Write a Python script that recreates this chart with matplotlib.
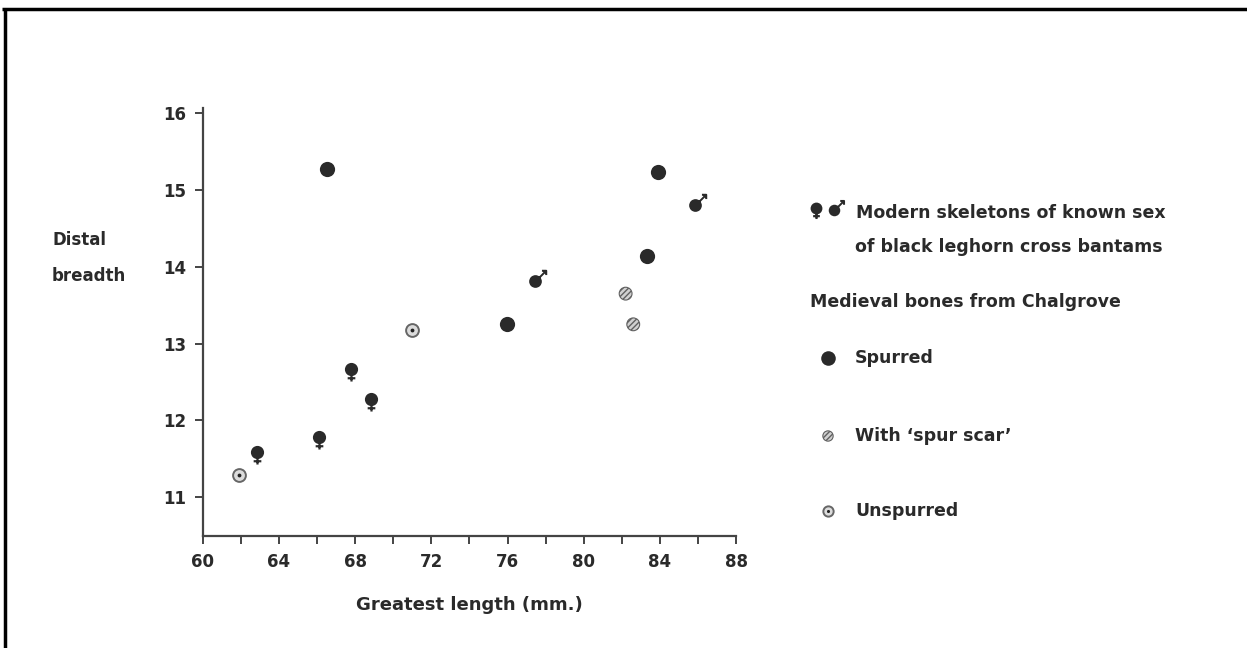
import numpy as np
import matplotlib
matplotlib.use("Agg")
import matplotlib.pyplot as plt
from matplotlib.path import Path

# greatest length (mm) / distal breadth (mm)
spurred_x = [66.5, 75.95, 83.3, 83.9]
spurred_y = [15.27, 13.26, 14.14, 15.23]
scar_x = [82.2, 82.6]
scar_y = [13.65, 13.25]
unspurred_x = [61.9, 71.0]
unspurred_y = [11.28, 13.17]
female_x = [62.85, 66.1, 67.8, 68.85]
female_y = [11.59, 11.78, 12.67, 12.28]
male_x = [77.45, 85.85]
male_y = [13.82, 14.81]

x_ticks = [60, 64, 68, 72, 76, 80, 84, 88]
y_ticks = [11, 12, 13, 14, 15, 16]

plt.rcParams["font.family"] = ["DejaVu Sans"]
plt.rcParams["font.weight"] = "bold"
INK = "#2a2a2a"


def female_marker():
    circ = Path.circle((0, 0), 1.0)
    stem = Path([(0, -1.0), (0, -2.2)], [Path.MOVETO, Path.LINETO])
    bar = Path([(-0.7, -1.6), (0.7, -1.6)], [Path.MOVETO, Path.LINETO])
    return Path.make_compound_path(circ, stem, bar)


def male_marker():
    circ = Path.circle((0, 0), 1.0)
    shaft = Path([(0.7, 0.7), (2.0, 2.0)], [Path.MOVETO, Path.LINETO])
    head = Path([(1.2, 2.0), (2.0, 2.0), (2.0, 1.2)],
                [Path.MOVETO, Path.LINETO, Path.LINETO])
    return Path.make_compound_path(circ, shaft, head)


FEMALE = female_marker()
MALE = male_marker()


def draw_spurred(ax, x, y, s=120):
    ax.scatter(x, y, s=s, marker="o", color=INK, linewidths=0, zorder=3)


def draw_scar(ax, x, y, s=85):
    ax.scatter(x, y, s=s, marker="o", facecolor="#d0d0d0", edgecolor="#606060",
               hatch="//////", linewidths=0.8, zorder=3)


def draw_unspurred(ax, x, y, s=85):
    ax.scatter(x, y, s=s, marker="o", facecolor="#dcdcdc", edgecolor="#666666",
               linewidths=1.4, zorder=3)
    ax.scatter(x, y, s=s * 0.09, marker="o", color="#222222", linewidths=0, zorder=4)


def draw_female(ax, x, y, s=300):
    ax.scatter(x, y, s=s, marker=FEMALE, facecolor=INK, edgecolor=INK,
               linewidths=1.6, zorder=3)


def draw_male(ax, x, y, s=240):
    ax.scatter(x, y, s=s, marker=MALE, facecolor=INK, edgecolor=INK,
               linewidths=1.4, zorder=3)


fig = plt.figure(figsize=(12.47, 6.48), dpi=100)
ax = fig.add_axes([0.1626, 0.1728, 0.4277, 0.6605])

draw_spurred(ax, spurred_x, spurred_y)
draw_scar(ax, scar_x, scar_y)
draw_unspurred(ax, unspurred_x, unspurred_y)
draw_female(ax, female_x, female_y)
draw_male(ax, male_x, male_y)

ax.set_xlim(60, 88)
ax.set_ylim(10.49, 16.07)
ax.set_xticks(x_ticks)
ax.set_xticks(np.arange(60, 89, 2), minor=True)
ax.set_yticks(y_ticks)
ax.tick_params(axis="both", which="both", direction="out", length=6, width=1.4,
               color="#444444", labelsize=12, labelcolor=INK, pad=6)
for side in ("top", "right"):
    ax.spines[side].set_visible(False)
for side in ("left", "bottom"):
    ax.spines[side].set_color("#444444")
    ax.spines[side].set_linewidth(1.6)
ax.set_xlabel("Greatest length (mm.)", fontsize=13, fontweight="bold",
              color=INK, labelpad=18)

# page overlay in pixel units: frame, y label and key
ov = fig.add_axes([0, 0, 1, 1], facecolor="none")
ov.set_xlim(0, 1247)
ov.set_ylim(648, 0)
ov.axis("off")
ov.plot([2, 1247], [9, 9], color="black", lw=2.5, solid_capstyle="butt")
ov.plot([5, 5], [9, 648], color="black", lw=2.5, solid_capstyle="butt")

ov.text(52, 240, "Distal", fontsize=12, color=INK, va="center", ha="left")
ov.text(52, 276, "breadth", fontsize=12, color=INK, va="center", ha="left")

key_font = dict(fontsize=12.5, color=INK, va="center", ha="left")
draw_female(ov, [816], [208], s=230)
draw_male(ov, [834], [210], s=190)
ov.text(856, 213, "Modern skeletons of known sex", **key_font)
ov.text(855, 247, "of black leghorn cross bantams", **key_font)
ov.text(810, 302, "Medieval bones from Chalgrove", **key_font)
draw_spurred(ov, [828], [358], s=110)
ov.text(855, 358, "Spurred", **key_font)
draw_scar(ov, [828], [436], s=55)
ov.text(855, 436, "With \u2018spur scar\u2019", **key_font)
draw_unspurred(ov, [828], [511], s=55)
ov.text(855, 511, "Unspurred", **key_font)

fig.savefig("out.png", dpi=100, facecolor="white")
